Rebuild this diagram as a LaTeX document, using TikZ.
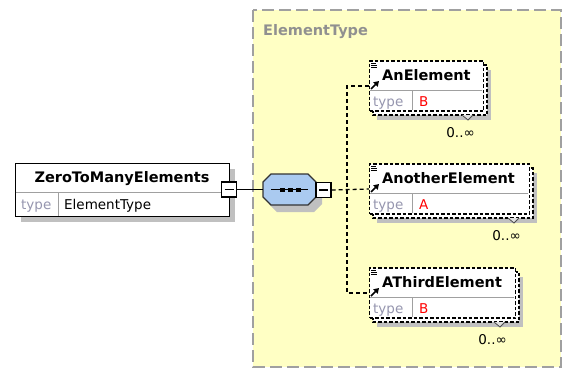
\documentclass[tikz,border=0pt]{standalone}
\usepackage{fontspec}
\setmainfont{DejaVu Sans}
\usetikzlibrary{arrows.meta}
\definecolor{typefill}{RGB}{255,255,196}
\definecolor{typeborder}{RGB}{160,160,160}
\definecolor{seqblue}{RGB}{170,202,240}
\definecolor{shadegray}{RGB}{192,192,192}
\definecolor{typegray}{RGB}{150,150,175}
\begin{document}
\begin{tikzpicture}[x=1pt,y=-1pt,
    hdr/.style={font=\fontsize{14.5}{17}\selectfont\bfseries, inner sep=0pt},
    typelbl/.style={font=\fontsize{13.5}{16}\selectfont, text=typegray, inner sep=0pt},
    typeval/.style={font=\fontsize{13.5}{16}\selectfont, inner sep=0pt},
    rowline/.style={draw=typeborder, line width=0.9pt},
    dbox/.style={draw=black, fill=white, line width=1.3pt, dash pattern=on 3.5pt off 2pt},
    conn/.style={line width=1.3pt, dash pattern=on 4pt off 3pt},
    collapse/.style={draw=black, fill=white, line width=1.2pt, minimum size=15pt, inner sep=0pt,
        path picture={\draw [line width=1.2pt] ([xshift=3pt]path picture bounding box.west) -- ([xshift=-3pt]path picture bounding box.east);}}]
    \useasboundingbox (0,0) rectangle (564,381);
    \draw [fill=typefill, draw=typeborder, line width=1.4pt, dash pattern=on 12pt off 5pt] (253,10) rectangle (561,367);
    \node [hdr, text=typeborder!90!black, anchor=base west] (ctype) at (263,35) {ElementType};
    \fill [shadegray] (21,169) rectangle (235,222);
    \node [draw, fill=white, line width=1.2pt, anchor=north west, minimum width=214pt, minimum height=53pt, inner sep=0pt] (zero) at (15,163) {};
    \draw [rowline] (15.5,192) -- (228.5,192) (58,192) -- (58,215.5);
    \node [hdr, anchor=base] (zeroname) at (122,182) {ZeroToManyElements};
    \node [typelbl, anchor=base west] (zerotype) at (21,209) {type};
    \node [typeval, anchor=base west] (zeroval) at (64,209) {ElementType};
    \node [collapse] (zerobox) at (229,189.5) {};
    \fill [shadegray] (269,189)--(277,181)--(314,181)--(322,189)--(322,204)--(314,212)--(277,212)--(269,204)--cycle;
    \draw [fill=seqblue, line width=1.2pt, draw=black!80] (263,182)--(271,174)--(308,174)--(316,182)--(316,197)--(308,205)--(271,205)--(263,197)--cycle;
    \coordinate (seqin) at (263,189.5);
    \draw [line width=1.2pt] (271,189.5) -- (308,189.5);
    \foreach \dx in {282,290,298}
        \fill (\dx-2.5,187.5) rectangle (\dx+2.5,191.5);
    \node [collapse] (seqbox) at (323.5,190) {};
    \draw [line width=1.2pt] (zerobox.east) -- (seqin);
    \foreach \nm/\cy/\ew/\lbl/\val in {anel/86/114/AnElement/B, another/189/160/AnotherElement/A, athird/293/146/AThirdElement/B} {
        \fill [shadegray] (377,\cy-16) rectangle (377+\ew,\cy+34);
        \draw [dbox] (373,\cy-21) rectangle (373+\ew,\cy+29);
        \filldraw [fill=shadegray!50, draw=black!70, line width=0.8pt] (373+\ew-25,\cy+29) -- (373+\ew-19,\cy+34) -- (373+\ew-14,\cy+29);
        \node [dbox, anchor=west, minimum width=\ew pt, minimum height=50pt, inner sep=0pt] (\nm) at (369,\cy) {};
        \draw [rowline] (370,\cy+4) -- (369+\ew-1,\cy+4) (412,\cy+4) -- (412,\cy+24);
        \draw [line width=0.8pt] (371,\cy-23) -- (376,\cy-23) (371,\cy-21) -- (377,\cy-21) (371,\cy-19) -- (377,\cy-19);
        \draw [-{Triangle[length=5pt,width=6pt]}, line width=1.6pt] ([shift={(2,3)}]\nm.west) -- ([shift={(10,-5)}]\nm.west);
        \node [hdr, anchor=base west] (\nm-name) at (382,\cy-6) {\lbl};
        \node [typelbl, anchor=base west] (\nm-type) at (373,\cy+20) {type};
        \node [typeval, text=red, anchor=base west] (\nm-val) at (419,\cy+20) {\val};
        \node [typeval, anchor=base east] (\nm-occ) at (373+\ew-12,\cy+51) {0..∞};
    }
    \draw [conn] (anel.west) -| (athird.west -| 347,0) -- (athird.west);
    \draw [conn] (seqbox.east) -- (another.west);
\end{tikzpicture}
\end{document}
